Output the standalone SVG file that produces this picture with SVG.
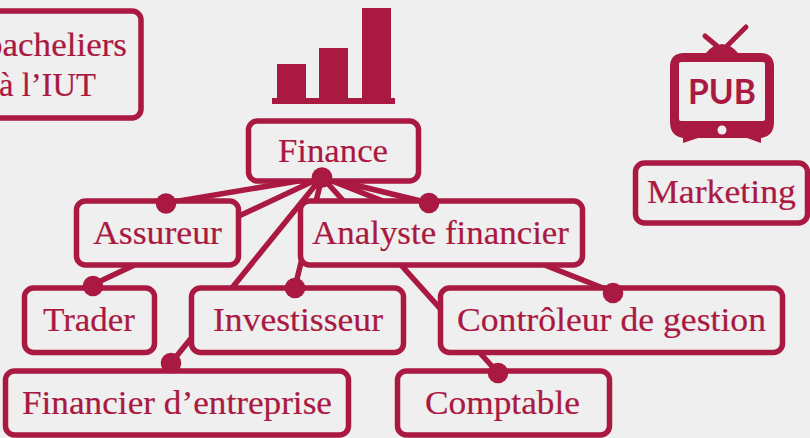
<svg xmlns="http://www.w3.org/2000/svg" width="810" height="438" viewBox="0 0 810 438">
<style>
.b{fill:#efefef;stroke:#aa1941;stroke-width:5.500}
.t{font-family:"Liberation Serif",serif;font-size:33px;fill:#aa1941;stroke:#aa1941;stroke-width:.2}
.c{stroke:#aa1941;stroke-width:5.500;fill:none}
.d{fill:#aa1941}
</style>
<rect width="810" height="438" fill="#efefef"/>
<g id="connectors">
<path class="c" d="M322 177L167 203M322 177L92 285M322 177L171 363M322 177L295 287M322 177L429 203M322 177L613 292M322 177L498 373"/>
</g>
<g id="bacheliers"><rect class="b" x="-40" y="11" width="181" height="107" rx="9"/><text class="t" x="-15" y="56" textLength="142" lengthAdjust="spacingAndGlyphs">bacheliers</text><text class="t" x="-1" y="96" textLength="97" lengthAdjust="spacingAndGlyphs">à l’IUT</text></g>
<g id="finance-icon" fill="#aa1941"><rect x="272" y="98" width="123" height="6"/><rect x="277" y="64" width="29" height="36"/><rect x="319" y="48" width="29" height="52"/><rect x="362" y="8" width="29" height="92"/></g>
<g id="finance"><rect class="b" x="248.500" y="121" width="170" height="60" rx="9"/><text class="t" x="278" y="162" textLength="110" lengthAdjust="spacingAndGlyphs">Finance</text></g>
<g id="marketing-icon">
<path d="M705 36L717 46M746 27L727 46" stroke="#aa1941" stroke-width="5" stroke-linecap="round" fill="none"/>
<path fill="#aa1941" fill-rule="evenodd" d="M706 53Q712 45 722 44Q732 45 738 53H760Q774 53 774 67V122Q774 136 761 138V143L747 138H698L683 143V138Q670 136 670 122V67Q670 53 684 53ZM681 62Q679 62 679 64V119Q679 121 681 121H763Q765 121 765 119V64Q765 62 763 62Z"/>
<circle cx="722" cy="130" r="4.500" fill="#efefef"/>
<text x="688" y="104" font-family="Lato,sans-serif" font-weight="700" font-size="35" fill="#aa1941" textLength="68" lengthAdjust="spacingAndGlyphs">PUB</text>
</g>
<g id="marketing"><rect class="b" x="635.500" y="163" width="172" height="60" rx="9"/><text class="t" x="647" y="203" textLength="149" lengthAdjust="spacingAndGlyphs">Marketing</text></g>
<g id="assureur"><rect class="b" x="76.500" y="201" width="162" height="64" rx="9"/><text class="t" x="93" y="244" textLength="129" lengthAdjust="spacingAndGlyphs">Assureur</text></g>
<g id="analyste"><rect class="b" x="300.500" y="201" width="282" height="64" rx="9"/><text class="t" x="312" y="244" textLength="257" lengthAdjust="spacingAndGlyphs">Analyste financier</text></g>
<g id="trader"><rect class="b" x="24.500" y="288" width="130" height="64.500" rx="9"/><text class="t" x="43" y="331" textLength="92" lengthAdjust="spacingAndGlyphs">Trader</text></g>
<g id="investisseur"><rect class="b" x="191.500" y="288" width="212" height="64.500" rx="9"/><text class="t" x="213" y="331" textLength="170" lengthAdjust="spacingAndGlyphs">Investisseur</text></g>
<g id="controleur"><rect class="b" x="440.500" y="288" width="342" height="64.500" rx="9"/><text class="t" x="457" y="331" textLength="309" lengthAdjust="spacingAndGlyphs">Contrôleur de gestion</text></g>
<g id="financier"><rect class="b" x="5.500" y="371" width="343" height="64" rx="9"/><text class="t" x="22" y="414" textLength="310" lengthAdjust="spacingAndGlyphs">Financier d’entreprise</text></g>
<g id="comptable"><rect class="b" x="397.500" y="371" width="212" height="64" rx="9"/><text class="t" x="425" y="414" textLength="155" lengthAdjust="spacingAndGlyphs">Comptable</text></g>
<g id="dots" class="d"><circle cx="322" cy="177.500" r="10.300"/><circle cx="166" cy="203.500" r="10.300"/><circle cx="429" cy="203" r="10.300"/><circle cx="93" cy="286" r="10.300"/><circle cx="295" cy="288" r="10.300"/><circle cx="613" cy="293" r="10.300"/><circle cx="171" cy="363" r="10.300"/><circle cx="498" cy="373" r="10.300"/></g>
</svg>
